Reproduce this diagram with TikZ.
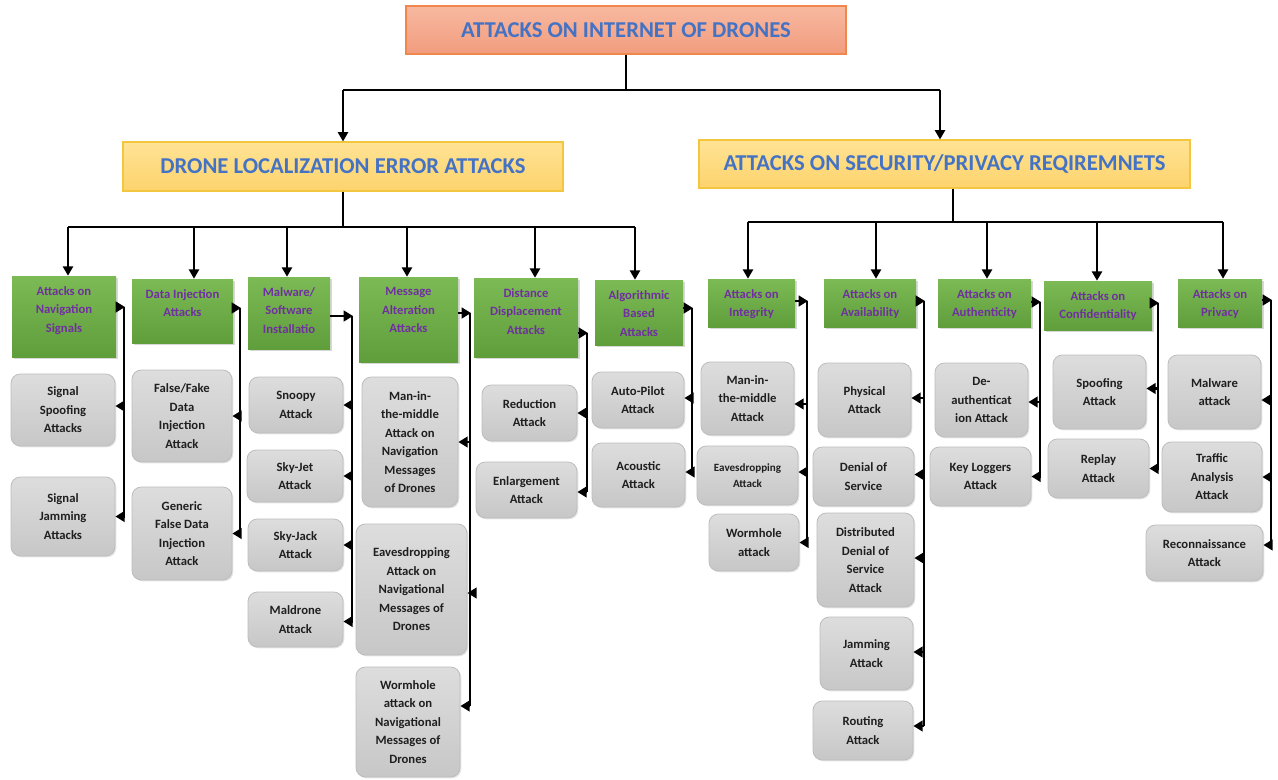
\documentclass[tikz,border=0pt]{standalone}
\usepackage{fontspec}
\setmainfont{Carlito}
\usetikzlibrary{arrows.meta,shadows,calc}

\definecolor{titleblue}{HTML}{4472C4}
\definecolor{salmonTop}{HTML}{F7B9A0}
\definecolor{salmonBot}{HTML}{F29C7E}
\definecolor{salmonLine}{HTML}{F0884E}
\definecolor{yellowTop}{HTML}{FFE395}
\definecolor{yellowBot}{HTML}{FDD36C}
\definecolor{yellowLine}{HTML}{F3C63F}
\definecolor{greenTop}{HTML}{7BBA54}
\definecolor{greenBot}{HTML}{5F9E3B}
\definecolor{leafText}{HTML}{7030A0}
\definecolor{grayTop}{HTML}{DDDDDD}
\definecolor{grayBot}{HTML}{C7C7C7}
\definecolor{grayLine}{HTML}{BDBDBD}

\newcommand\gfont{\fontsize{9.5}{13.9}\selectfont\bfseries}
\newcommand\sfont{\fontsize{8.3}{12.5}\selectfont\bfseries}

% box placed by its corner coordinates: style, name, x1, y1, x2, y2, text
\newcommand\placebox[7]{%
  \pgfmathsetmacro\pbcx{(#3+#5)/2}%
  \pgfmathsetmacro\pbcy{(#4+#6)/2}%
  \pgfmathsetmacro\pbw{(#5-#3)*0.75}%
  \pgfmathsetmacro\pbh{(#6-#4)*0.75}%
  \node[#1, minimum width=\pbw pt, minimum height=\pbh pt] (#2) at (\pbcx,\pbcy) {#7};}

% green category box with its caption set near the top
\newcommand\catbox[6]{%
  \placebox{catframe}{#1}{#2}{#3}{#4}{#5}{}%
  \node[cattext, anchor=north] (#1-t) at (\pbcx,#3+10) {#6};}

% arrow from a category trunk into a leaf box, with optional vertical offset
\newcommand\branch[3]{%
  \coordinate (#2-in) at ($(#2.east)+(0,#3)$);%
  \draw[branch] (#1 |- #2-in) -- (#2-in);}

\tikzset{
  titlebox/.style={draw=salmonLine, line width=0.8pt, top color=salmonTop, bottom color=salmonBot,
    inner sep=0pt, font=\fontsize{17}{20}\selectfont\bfseries, text=titleblue},
  headbox/.style={draw=yellowLine, line width=0.8pt, top color=yellowTop, bottom color=yellowBot,
    inner sep=0pt, font=\fontsize{17}{20}\selectfont\bfseries, text=titleblue},
  catframe/.style={top color=greenTop, bottom color=greenBot, inner sep=0pt,
    drop shadow={shadow xshift=1.2pt, shadow yshift=-1.2pt, opacity=0.3}},
  cattext/.style={font=\gfont, text=leafText, align=center, inner sep=0pt},
  leaf/.style={draw=grayLine, line width=0.6pt, top color=grayTop, bottom color=grayBot,
    rounded corners=7pt, inner sep=1pt, font=\gfont, text=black!88, align=center,
    drop shadow={shadow xshift=1pt, shadow yshift=-1pt, opacity=0.2}},
  tree/.style={line width=2pt, black},
  treearrow/.style={tree, -{Triangle[length=7pt, width=7.5pt]}},
  trunk/.style={line width=2.2pt, black},
  branch/.style={trunk, -{Triangle[length=7pt, width=8pt]}},
}

\begin{document}
\begin{tikzpicture}[x=0.75pt, y=-0.75pt]
\fill[white] (0,0) rectangle (1278,779);
\useasboundingbox (0,0) rectangle (1278,779);

% ---------- upper levels ----------
\placebox{titlebox}{title}{406}{6}{846}{54}{ATTACKS ON INTERNET OF DRONES}
\placebox{headbox}{dle}{123}{142}{563}{191}{DRONE LOCALIZATION ERROR ATTACKS}
\placebox{headbox}{asp}{699}{140}{1190}{188}{ATTACKS ON SECURITY/PRIVACY REQIREMNETS}

\coordinate (tl) at (343,90);
\coordinate (tr) at (940,90);
\draw[tree] (title.south) -- (title.south |- tl);
\draw[tree] (tl) -- (tr);
\draw[treearrow] (tl) -- (tl |- dle.north);
\draw[treearrow] (tr) -- (tr |- asp.north);

% ---------- category boxes ----------
\catbox{g1}{12}{276}{116}{357}{Attacks on\\Navigation\\Signals}
\catbox{g2}{132}{279}{233}{343}{Data Injection\\Attacks}
\catbox{g3}{248}{277}{330}{349}{Malware/\\Software\\Installatio}
\catbox{g4}{359}{277}{458}{362}{Message\\Alteration\\Attacks}
\catbox{g5}{474}{278}{578}{357}{Distance\\Displacement\\Attacks}
\catbox{g6}{595}{280}{683}{345}{Algorithmic\\Based\\Attacks}
\catbox{g7}{708}{279}{795}{327}{Attacks on\\Integrity}
\catbox{g8}{824}{279}{916}{327}{Attacks on\\Availability}
\catbox{g9}{938}{279}{1031}{327}{Attacks on\\Authenticity}
\catbox{g10}{1044}{281}{1152}{330}{Attacks on\\Confidentiality}
\catbox{g11}{1178}{279}{1262}{327}{Attacks on\\Privacy}

% ---------- left sub-tree ----------
\coordinate (lh) at (343,227);
\coordinate (la1) at (68,227);
\coordinate (la2) at (194,227);
\coordinate (la3) at (287,227);
\coordinate (la4) at (407,227);
\coordinate (la5) at (535,227);
\coordinate (la6) at (635,227);
\draw[tree] (dle.south) -- (dle.south |- lh);
\draw[tree] (la1) -- (la6);
\foreach \a/\g in {la1/g1, la2/g2, la3/g3, la4/g4, la5/g5, la6/g6}
  \draw[treearrow] (\a) -- (\a |- \g.north);

% ---------- right sub-tree ----------
\coordinate (rh) at (953,222);
\coordinate (ra1) at (748,222);
\coordinate (ra2) at (876,222);
\coordinate (ra3) at (987,222);
\coordinate (ra4) at (1097,222);
\coordinate (ra5) at (1223,222);
\draw[tree] (rh |- asp.south) -- (rh);
\draw[tree] (ra1) -- (ra5);
\foreach \a/\g in {ra1/g7, ra2/g8, ra3/g9, ra4/g10, ra5/g11}
  \draw[treearrow] (\a) -- (\a |- \g.north);

% ---------- leaf boxes ----------
\placebox{leaf}{a1}{11}{374}{115}{446}{Signal\\Spoofing\\Attacks}
\placebox{leaf}{a2}{11}{477}{115}{556}{Signal\\Jamming\\Attacks}

\placebox{leaf}{b1}{132}{370}{232}{462}{False/Fake\\Data\\Injection\\Attack}
\placebox{leaf}{b2}{132}{487}{232}{580}{Generic\\False Data\\Injection\\Attack}

\placebox{leaf}{c1}{249}{377}{343}{433}{Snoopy\\Attack}
\placebox{leaf}{c2}{247}{450}{343}{502}{Sky-Jet\\Attack}
\placebox{leaf}{c3}{248}{519}{343}{571}{Sky-Jack\\Attack}
\placebox{leaf}{c4}{248}{592}{343}{647}{Maldrone\\Attack}

\placebox{leaf}{d1}{362}{377}{458}{507}{Man-in-\\the-middle\\Attack on\\Navigation\\Messages\\of Drones}
\placebox{leaf}{d2}{356}{524}{467}{655}{Eavesdropping\\Attack on\\Navigational\\Messages of\\Drones}
\placebox{leaf}{d3}{356}{667}{460}{777}{Wormhole\\attack on\\Navigational\\Messages of\\Drones}

\placebox{leaf}{e1}{482}{385}{577}{441}{Reduction\\Attack}
\placebox{leaf}{e2}{476}{462}{577}{518}{Enlargement\\Attack}

\placebox{leaf}{f1}{592}{372}{684}{428}{Auto-Pilot\\Attack}
\placebox{leaf}{f2}{592}{443}{685}{507}{Acoustic\\Attack}

\placebox{leaf}{h1}{701}{362}{794}{435}{Man-in-\\the-middle\\Attack}
\placebox{leaf, font=\sfont}{h2}{697}{446}{798}{505}{Eavesdropping\\Attack}
\placebox{leaf}{h3}{709}{514}{799}{571}{Wormhole\\attack}

\placebox{leaf}{i1}{818}{363}{911}{437}{Physical\\Attack}
\placebox{leaf}{i2}{813}{447}{914}{506}{Denial of\\Service}
\placebox{leaf}{i3}{817}{513}{914}{607}{Distributed\\Denial of\\Service\\Attack}
\placebox{leaf}{i4}{820}{617}{913}{690}{Jamming\\Attack}
\placebox{leaf}{i5}{813}{701}{913}{760}{Routing\\Attack}

\placebox{leaf}{j1}{935}{363}{1028}{437}{De-\\authenticat\\ion Attack}
\placebox{leaf}{j2}{930}{447}{1031}{506}{Key Loggers\\Attack}

\placebox{leaf}{k1}{1053}{355}{1146}{429}{Spoofing\\Attack}
\placebox{leaf}{k2}{1048}{439}{1149}{498}{Replay\\Attack}

\placebox{leaf}{l1}{1168}{355}{1261}{429}{Malware\\attack}
\placebox{leaf}{l2}{1162}{442}{1262}{512}{Traffic\\Analysis\\Attack}
\placebox{leaf}{l3}{1146}{525}{1263}{581}{Reconnaissance\\Attack}

% ---------- category trunks ----------
\coordinate (v1) at (124,307);
\coordinate (v2) at (240,308);
\coordinate (v3) at (352,316);
\coordinate (v4) at (470,313);
\coordinate (v5) at (587,333);
\coordinate (v6) at (692,308);
\coordinate (v7) at (807,301);
\coordinate (v8) at (924,301);
\coordinate (v9) at (1040,302);
\coordinate (v10) at (1158,303);
\coordinate (v11) at (1271,300);

\foreach \g/\v in {g1/v1, g2/v2, g3/v3, g4/v4, g5/v5, g6/v6, g7/v7, g8/v8, g9/v9, g10/v10, g11/v11}
  \draw[branch] (\g.east |- \v) -- ($(\v)+(1,0)$);

\branch{v1}{a1}{-4}
\branch{v1}{a2}{0}
\branch{v2}{b1}{0}
\branch{v2}{b2}{0}
\branch{v3}{c1}{0}
\branch{v3}{c2}{0}
\branch{v3}{c3}{0}
\branch{v3}{c4}{2}
\branch{v4}{d1}{0}
\branch{v4}{d2}{3.5}
\branch{v4}{d3}{-16}
\branch{v5}{e1}{0}
\branch{v5}{e2}{2}
\branch{v6}{f1}{-2}
\branch{v6}{f2}{-3}
\branch{v7}{h1}{5.5}
\branch{v7}{h2}{-3.5}
\branch{v7}{h3}{0}
\branch{v8}{i1}{-2}
\branch{v8}{i2}{-2}
\branch{v8}{i3}{-2}
\branch{v8}{i4}{-1.5}
\branch{v8}{i5}{-4.5}
\branch{v9}{j1}{2}
\branch{v9}{j2}{0}
\branch{v10}{k1}{-3.5}
\branch{v10}{k2}{0}
\branch{v11}{l1}{8}
\branch{v11}{l2}{0}
\branch{v11}{l3}{-8}

\foreach \v/\last in {v1/a2, v2/b2, v3/c4, v4/d3, v5/e2, v6/f2, v7/h3, v8/i5, v9/j2, v10/k2, v11/l3}
  \draw[trunk] (\v) -- (\v |- \last-in);
\end{tikzpicture}
\end{document}
